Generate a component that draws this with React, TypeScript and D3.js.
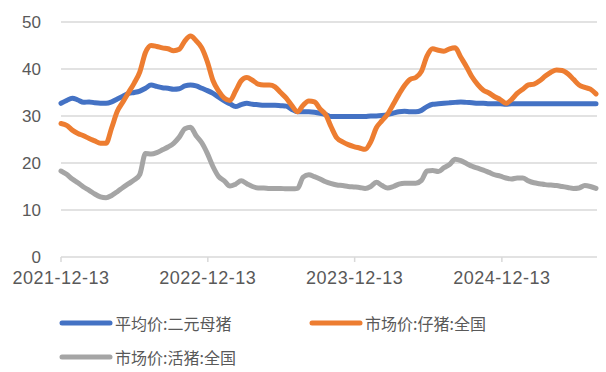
import React from 'react';
import * as d3 from 'd3';

// biweekly observations starting 2021-12-13
const startDate = new Date(2021, 11, 13);
const stepDays = 14;

const sowPrice = [
  32.7, 33.3, 33.8, 33.4, 32.9, 33.0, 32.8, 32.7, 32.7, 33.0,
  33.6, 34.2, 34.8, 35.0, 35.3, 35.9, 36.6, 36.3, 36.0, 35.9,
  35.7, 35.8, 36.4, 36.6, 36.4, 35.9, 35.4, 34.8, 34.0, 33.2,
  32.6, 32.0, 32.4, 32.7, 32.5, 32.4, 32.3, 32.3, 32.3, 32.2,
  32.1, 31.4, 30.9, 30.9, 30.9, 30.8, 30.6, 30.3, 29.9, 29.9,
  29.9, 29.9, 29.9, 29.9, 29.9, 30.0, 30.0, 30.1, 30.3, 30.6,
  30.9, 31.0, 30.9, 30.9, 31.2, 32.0, 32.5, 32.6, 32.7, 32.8,
  32.9, 33.0, 32.9, 32.8, 32.7, 32.7, 32.6, 32.6, 32.6, 32.5,
  32.6, 32.6, 32.6, 32.6, 32.6, 32.6, 32.6, 32.6, 32.6, 32.6,
  32.6, 32.6, 32.6, 32.6, 32.6, 32.6,
];

const pigletPrice = [
  28.4, 28.0, 27.0, 26.3, 25.8, 25.2, 24.7, 24.2, 24.2, 27.5,
  31.0, 33.0, 35.0, 37.0, 39.4, 43.5, 45.0, 44.8, 44.5, 44.3,
  43.9, 44.2, 46.0, 47.0, 46.0, 44.5, 41.5, 37.5, 35.3, 33.8,
  33.3, 35.3, 37.5, 38.2, 37.6, 36.8, 36.6, 36.6, 36.2, 35.0,
  33.8, 32.2, 30.9, 32.3, 33.2, 33.0, 31.5, 30.3, 27.6, 25.3,
  24.5, 23.9, 23.5, 23.2, 22.9, 24.5, 27.5, 29.0, 30.4, 32.5,
  34.6, 36.5, 37.8, 38.2, 39.5, 42.8, 44.3, 44.0, 43.8, 44.3,
  44.5, 42.5, 40.5, 38.3, 36.7, 35.5, 34.9, 34.1, 33.5, 32.7,
  33.5, 34.8, 35.7, 36.6, 36.8, 37.5, 38.5, 39.3, 39.8, 39.7,
  39.0, 37.8, 36.6, 36.1, 35.7, 34.7,
];

const hogPrice = [
  18.3, 17.6, 16.6, 15.8, 14.9, 14.2, 13.4, 12.8, 12.6, 13.1,
  13.9, 14.8, 15.6, 16.4, 17.6, 22.0, 21.9, 22.2, 22.8, 23.4,
  24.2, 25.5, 27.3, 27.6, 25.8, 24.3, 22.0, 19.2, 17.1, 16.2,
  15.1, 15.5, 16.2, 15.6, 15.0, 14.7, 14.7, 14.6, 14.6, 14.6,
  14.5, 14.5, 14.6, 17.0, 17.5, 17.1, 16.6, 16.0, 15.6, 15.3,
  15.2, 15.0, 14.9, 14.8, 14.6, 15.0, 15.9, 15.2, 14.7, 15.0,
  15.5, 15.7, 15.7, 15.7, 16.3, 18.3, 18.4, 18.2, 19.0, 19.7,
  20.8, 20.5, 19.9, 19.3, 18.9, 18.5, 18.0, 17.5, 17.2, 16.8,
  16.6, 16.8, 16.8, 16.2, 15.8, 15.6, 15.4, 15.3, 15.2, 15.0,
  14.8, 14.6, 14.7, 15.2, 15.0, 14.6,
];

const yTicks = [0, 10, 20, 30, 40, 50];
const xTickLabels = ['2021-12-13', '2022-12-13', '2023-12-13', '2024-12-13'];

const seriesNames = ['平均价:二元母猪', '市场价:仔猪:全国', '市场价:活猪:全国'];
const seriesColors = ['#4472C4', '#ED7D31', '#A5A5A5'];

const W = 606;
const H = 372;
const textColor = '#595959';
const gridColor = '#d9d9d9';
const numFont = '"Liberation Sans", Arial, sans-serif';
const cjkFont = '"Noto Sans CJK SC", "Liberation Sans", sans-serif';

export default function App() {
  const dates = sowPrice.map((_, i) => d3.timeDay.offset(startDate, i * stepDays));
  const x = d3.scaleTime()
    .domain([dates[0], dates[dates.length - 1]])
    .range([61, 596]);
  const y = d3.scaleLinear().domain([0, 50]).range([257, 22]);

  const parse = d3.timeParse('%Y-%m-%d');
  const line = d3.line<number>()
    .x((_, i) => x(dates[i]))
    .y((d) => y(d))
    .curve(d3.curveMonotoneX);

  const series = [sowPrice, pigletPrice, hogPrice];

  const legend = [
    { lx: 62, ly: 323 },
    { lx: 312, ly: 323 },
    { lx: 62, ly: 357 },
  ];

  return (
    <svg width={W} height={H} style={{ position: 'absolute', left: 0, top: 0, background: '#fff' }}>
      {yTicks.map((t) => (
        <g key={t}>
          <line x1={61} x2={597} y1={y(t)} y2={y(t)} stroke={gridColor} strokeWidth={1.5} />
          <text x={41} y={y(t)} textAnchor="end" dominantBaseline="central"
            fontFamily={numFont} fontSize={17} fill={textColor}>{t}</text>
        </g>
      ))}
      {xTickLabels.map((s) => {
        const px = x(parse(s) as Date);
        return (
          <g key={s}>
            <line x1={px} x2={px} y1={y(0)} y2={y(0) + 5} stroke={gridColor} strokeWidth={1.5} />
            <text x={px} y={284} textAnchor="middle" fontFamily={numFont} fontSize={18}
              letterSpacing={0.5} fill={textColor}>{s}</text>
          </g>
        );
      })}
      {series.map((s, i) => (
        <path key={i} d={line(s) || ''} fill="none" stroke={seriesColors[i]}
          strokeWidth={5} strokeLinejoin="round" strokeLinecap="round" />
      ))}
      {legend.map((l, i) => (
        <g key={i}>
          <line x1={l.lx} x2={l.lx + 48} y1={l.ly} y2={l.ly} stroke={seriesColors[i]}
            strokeWidth={5} strokeLinecap="round" />
          <text x={l.lx + 53} y={l.ly} dominantBaseline="central" fontFamily={cjkFont}
            fontSize={16} fill={textColor}>{seriesNames[i]}</text>
        </g>
      ))}
    </svg>
  );
}
